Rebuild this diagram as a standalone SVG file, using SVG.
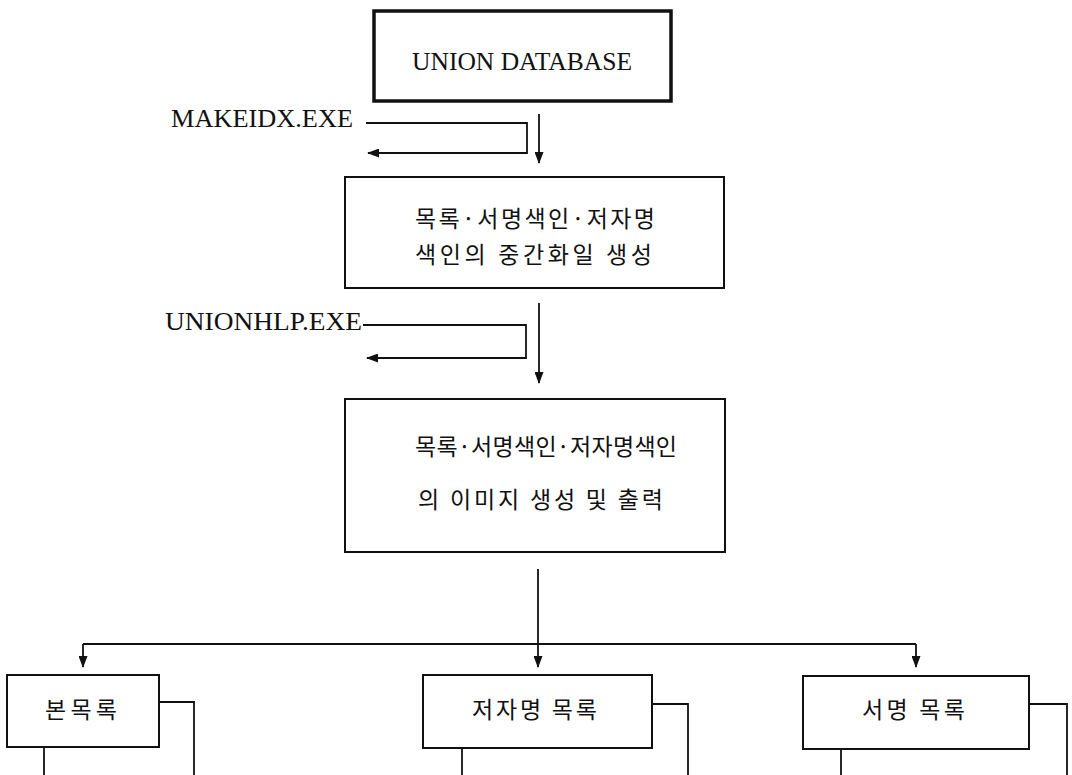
<svg xmlns="http://www.w3.org/2000/svg" width="1072" height="775" viewBox="0 0 1072 775">
<style>
.bx{fill:#fff;stroke:#111;stroke-width:2}
.bxt{fill:#fff;stroke:#111;stroke-width:3.5}
.en{font-family:"Liberation Serif","Times New Roman",serif;font-size:25px;fill:#111}
.ko{font-family:"Noto Sans CJK KR","Noto Sans",sans-serif;font-size:23px;fill:#111;dominant-baseline:central;font-weight:400}
.c{fill:none;stroke:#111;stroke-width:1.8}
</style>
<defs>
<marker id="ah" markerUnits="userSpaceOnUse" markerWidth="12" markerHeight="9" refX="11" refY="4.5" orient="auto">
<path d="M0,0 L12,4.5 L0,9 z" fill="#111"/>
</marker>
</defs>
<g id="connectors">
<polyline class="c" points="366,123 527,123 527,153 368,153" marker-end="url(#ah)"/>
<line class="c" x1="539" y1="114" x2="539" y2="163" marker-end="url(#ah)"/>
<polyline class="c" points="363,325 526,325 526,358 367,358" marker-end="url(#ah)"/>
<line class="c" x1="539" y1="303" x2="539" y2="383" marker-end="url(#ah)"/>
<line class="c" x1="538" y1="569" x2="538" y2="667" marker-end="url(#ah)"/>
<path class="c" d="M83,644 H916"/>
<line class="c" x1="83" y1="644" x2="83" y2="667" marker-end="url(#ah)"/>
<line class="c" x1="916" y1="644" x2="916" y2="667" marker-end="url(#ah)"/>
<polyline class="c" points="159,702 194,702 194,775"/>
<polyline class="c" points="652,704 688,704 688,775"/>
<polyline class="c" points="1029,704 1067,704 1067,775"/>
<line class="c" x1="44" y1="747" x2="44" y2="775"/>
<line class="c" x1="462" y1="748" x2="462" y2="775"/>
<line class="c" x1="841" y1="749" x2="841" y2="775"/>
</g>
<g id="label-makeidx"><text class="en" x="171" y="127" textLength="182" lengthAdjust="spacingAndGlyphs">MAKEIDX.EXE</text></g>
<g id="label-unionhlp"><text class="en" x="165" y="330" textLength="197" lengthAdjust="spacingAndGlyphs">UNIONHLP.EXE</text></g>
<g id="node-union">
<rect class="bxt" x="374" y="11" width="297" height="90"/>
<text class="en" x="412" y="70" textLength="220" lengthAdjust="spacingAndGlyphs">UNION DATABASE</text>
</g>
<g id="node-intermediate">
<rect class="bx" x="345" y="177" width="379" height="111"/>
<text class="ko" x="415" y="217" textLength="240" lengthAdjust="spacing">목록·서명색인·저자명</text>
<text class="ko" x="415" y="253" textLength="237" lengthAdjust="spacing">색인의 중간화일 생성</text>
</g>
<g id="node-image">
<rect class="bx" x="345" y="399" width="380" height="153"/>
<text class="ko" x="415" y="445" textLength="262" lengthAdjust="spacing">목록·서명색인·저자명색인</text>
<text class="ko" x="418" y="498" textLength="245" lengthAdjust="spacing">의 이미지 생성 및 출력</text>
</g>
<g id="node-main">
<rect class="bx" x="7" y="675" width="152" height="72"/>
<text class="ko" x="45" y="708" textLength="72" lengthAdjust="spacing">본목록</text>
</g>
<g id="node-author">
<rect class="bx" x="423" y="675" width="229" height="73"/>
<text class="ko" x="472" y="708" textLength="125" lengthAdjust="spacing">저자명 목록</text>
</g>
<g id="node-title">
<rect class="bx" x="803" y="676" width="226" height="73"/>
<text class="ko" x="862" y="708" textLength="103" lengthAdjust="spacing">서명 목록</text>
</g>
</svg>
